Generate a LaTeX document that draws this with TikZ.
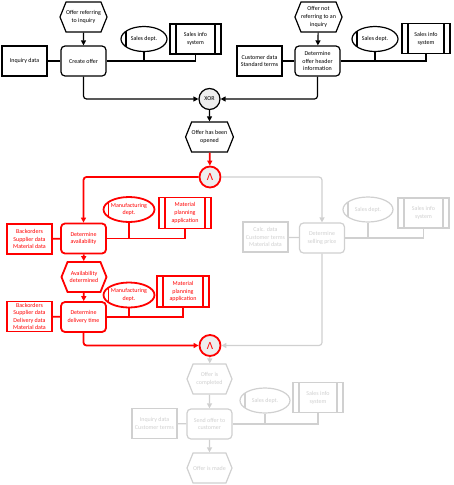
\documentclass[tikz,border=0pt]{standalone}
\usepackage{fontspec}
\setmainfont{Carlito}
\usetikzlibrary{shapes.geometric,shapes.symbols,arrows.meta,calc}
\definecolor{lg}{RGB}{208,208,208}
\definecolor{rd}{RGB}{255,0,0}
\definecolor{cfill}{RGB}{238,238,238}
\begin{document}
\begin{tikzpicture}[x=1pt,y=-1pt,
  base/.style={font=\fontsize{6}{7.8}\selectfont, align=center, inner sep=0pt},
  func/.style={base, rectangle, rounded corners=4pt, draw=#1, text=#1, fill=white, minimum width=45pt, minimum height=30pt},
  ev/.style={base, signal, signal to=west and east, signal pointer angle=136, draw=#1, text=#1, fill=white, minimum width=45pt, minimum height=30pt},
  dat/.style={base, rectangle, draw=#1, text=#1, fill=white, minimum width=45pt, minimum height=30pt},
  org/.style={base, ellipse, draw=#1, text=#1, fill=white, minimum width=46pt, minimum height=25pt,
    path picture={\draw[#1] ([xshift=5pt]path picture bounding box.north west) -- ([xshift=5pt]path picture bounding box.south west);}},
  sys/.style={base, rectangle, draw=#1, text=#1, fill=white, minimum width=51pt, minimum height=30pt,
    path picture={\draw[#1] ([xshift=6pt]path picture bounding box.north west) -- ([xshift=6pt]path picture bounding box.south west)
      ([xshift=-6pt]path picture bounding box.north east) -- ([xshift=-6pt]path picture bounding box.south east);}},
  conn/.style={base, circle, draw=#1, text=#1, fill=cfill, minimum size=21pt},
  andc/.style={conn=#1, font=\fontsize{11}{11}\selectfont},
  link/.style={draw=#1},
  flow/.style={draw=#1, rounded corners=3pt, -{Triangle[length=5pt,width=5pt]}},
  blk/.style={line width=1.2pt},
  red/.style={line width=1.8pt},
  gry/.style={line width=1.2pt}
]
\useasboundingbox (0,0) rectangle (454,485);

% ---------- gray part ----------
\begin{scope}[gry]
\node[func=lg] (f5) at (322,238) {Determine\\selling price};
\node[dat=lg] (d5) at (265.5,237) {Calc. data\\Customer terms\\Material data};
\node[org=lg, minimum width=50pt] (o5) at (368,209.5) {Sales dept.};
\node[sys=lg] (s5) at (423.5,213) {Sales info\\system};
\node[ev=lg] (e5) at (209.5,379) {Offer is\\completed};
\node[func=lg] (f6) at (209.5,424) {Send offer to\\customer};
\node[dat=lg] (d6) at (154.5,423.5) {Inquiry data\\Customer terms};
\node[org=lg, minimum width=50pt] (o6) at (265,400.5) {Sales dept.};
\node[sys=lg, minimum width=50pt] (s6) at (318,397.5) {Sales info\\system};
\node[ev=lg] (e6) at (209.5,468) {Offer is made};
\draw[link=lg] (d5) -- (f5);
\draw[link=lg] (f5.east) -| (s5.south);
\draw[link=lg] (o5.south) -- (o5.south |- f5.east);
\draw[link=lg] (d6) -- (f6);
\draw[link=lg] (f6.east) -| (s6.south);
\draw[link=lg] (o6.south) -- (o6.south |- f6.east);
\draw[flow=lg] (e5) -- (f6);
\draw[flow=lg] (f6) -- (e6);
\end{scope}

% ---------- black part ----------
\begin{scope}[blk]
\node[ev=black] (e1) at (83.5,17) {Offer referring\\to inquiry};
\node[func=black] (f1) at (83.5,61) {Create offer};
\node[dat=black] (d1) at (24.5,61) {Inquiry data};
\node[org=black] (o1) at (144,39) {Sales dept.};
\node[sys=black] (s1) at (195.5,39) {Sales info\\system};
\node[ev=black] (e2) at (318.5,17) {Offer not\\referring to an\\inquiry};
\node[func=black] (f2) at (317.5,61) {Determine\\offer header\\information};
\node[dat=black] (d2) at (259.5,61) {Customer data\\Standard terms};
\node[org=black] (o2) at (375,39) {Sales dept.};
\node[sys=black, minimum width=48pt] (s2) at (426,38.5) {Sales info\\system};
\node[conn=black] (x1) at (209.5,99) {XOR};
\node[ev=black] (e3) at (209.5,137) {Offer has been\\opened};
\draw[flow=black] (e1) -- (f1);
\draw[flow=black] (e2) -- (f2);
\draw[link=black] (d1) -- (f1);
\draw[link=black] (d2) -- (f2);
\draw[link=black] (f1.east) -| (s1.south);
\draw[link=black] (o1.south) -- (o1.south |- f1.east);
\draw[link=black] (f2.east) -| (s2.south);
\draw[link=black] (o2.south) -- (o2.south |- f2.east);
\draw[flow=black] (f1.south) |- (x1.west);
\draw[flow=black] (f2.south) |- (x1.east);
\draw[flow=black] (x1) -- (e3);
\end{scope}

% ---------- red part ----------
\begin{scope}[red]
\node[andc=rd] (a1) at (210,177) {Λ};
\node[func=rd] (f3) at (83.5,238.5) {Determine\\availability};
\node[dat=rd] (d3) at (29.5,239) {Backorders\\Supplier data\\Material data};
\node[org=rd, minimum width=50pt] (o3) at (129,209.5) {Manufacturing\\dept.};
\node[sys=rd, minimum width=52pt, minimum height=31pt] (s3) at (185,213) {Material\\planning\\application};
\node[ev=rd] (e4) at (84,277) {Availability\\determined};
\node[func=rd] (f4) at (83.5,317) {Determine\\delivery time};
\node[dat=rd, font=\fontsize{6}{7.3}\selectfont] (d4) at (29.5,316.5) {Backorders\\Supplier data\\Delivery data\\Material data};
\node[org=rd, minimum width=50pt] (o4) at (129,295) {Manufacturing\\dept.};
\node[sys=rd, minimum width=52pt, minimum height=31pt] (s4) at (183,291.5) {Material\\planning\\application};
\node[andc=rd] (a2) at (210,345.5) {Λ};
\end{scope}
\begin{scope}[gry]
\draw[flow=lg] (a1.east) -| (f5.north);
\draw[flow=lg] (f5.south) |- (a2.east);
\draw[flow=lg] (a2) -- (e5);
\end{scope}
\begin{scope}[red]
\draw[flow=rd] (e3) -- (a1);
\draw[flow=rd] (a1.west) -| (f3.north);
\draw[link=rd] (d3) -- (f3);
\draw[link=rd] (f3.east) -| (s3.south);
\draw[link=rd] (o3.south) -- (o3.south |- f3.east);
\draw[flow=rd] (f3) -- (e4);
\draw[flow=rd] (e4) -- (f4);
\draw[link=rd] (d4) -- (f4);
\draw[link=rd] (f4.east) -| (s4.south);
\draw[link=rd] (o4.south) -- (o4.south |- f4.east);
\draw[flow=rd] (f4.south) |- (a2.west);
\end{scope}
\end{tikzpicture}
\end{document}
